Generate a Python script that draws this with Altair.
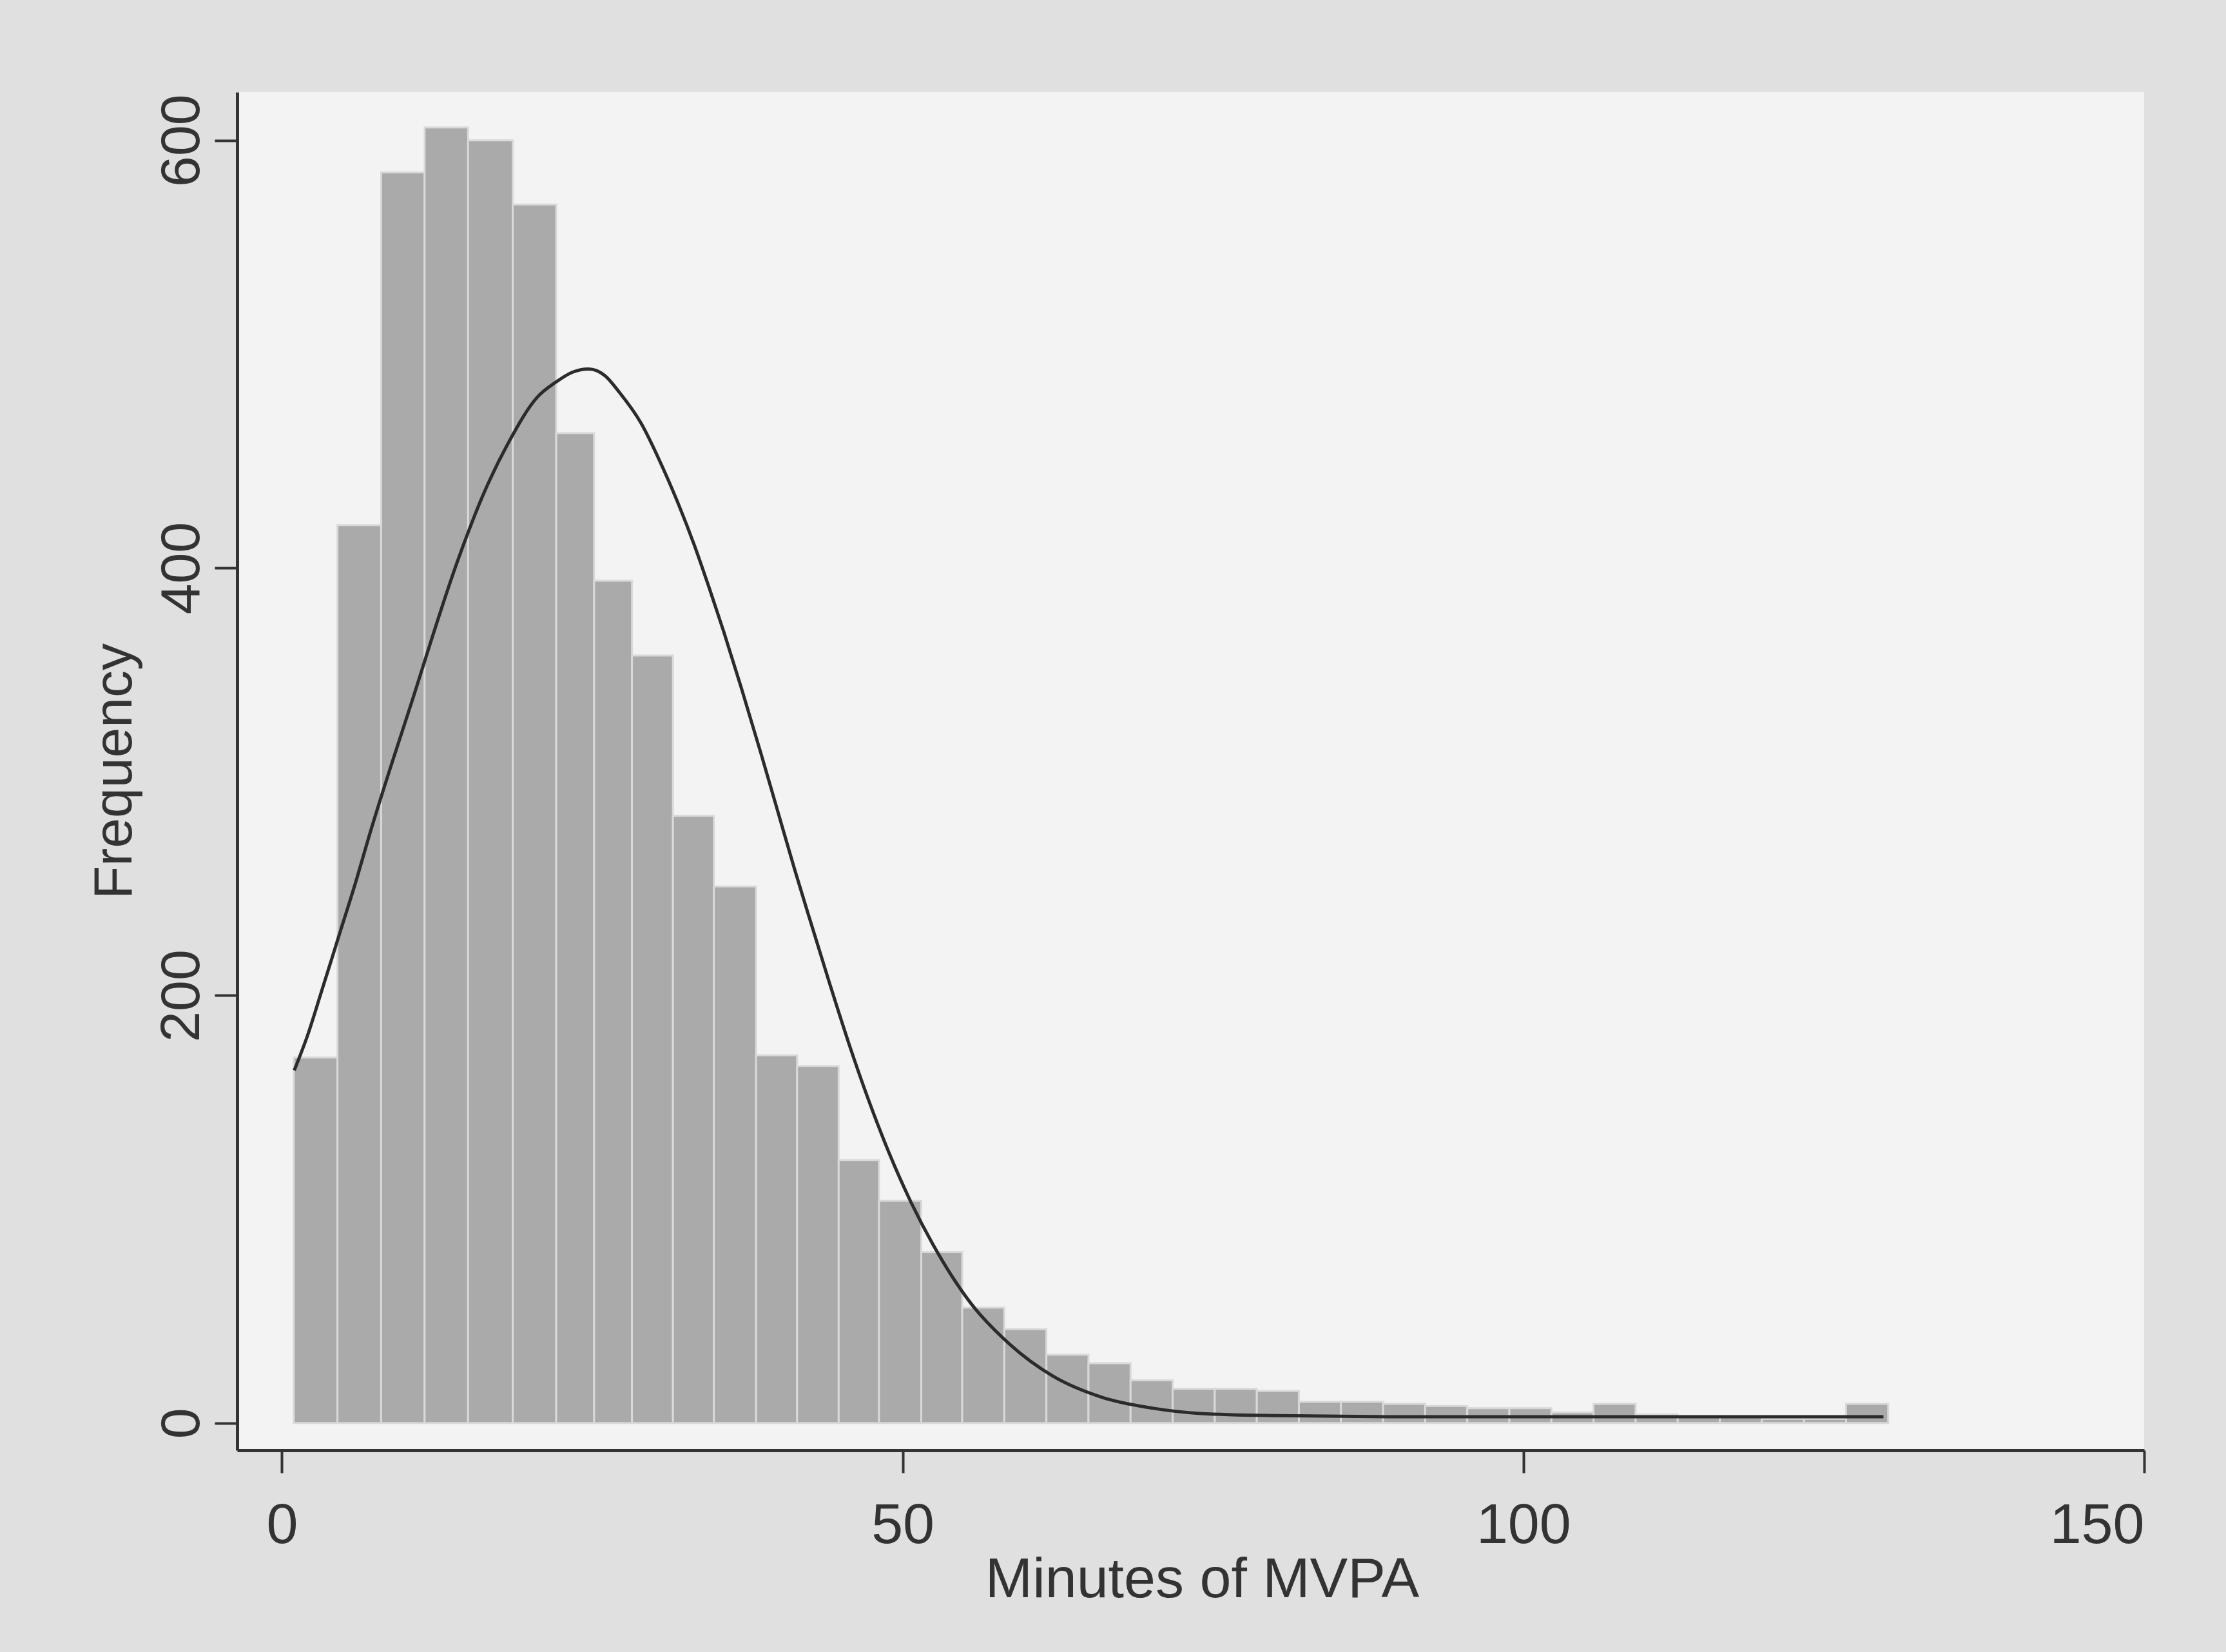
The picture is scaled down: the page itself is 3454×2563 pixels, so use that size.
import altair as alt
import pandas as pd

# Histogram bin edges (minutes), 38 bins
bin_edges = [0.96, 4.48, 8.0, 11.5, 15.0, 18.6, 22.1, 25.15, 28.2, 31.5,
             34.8, 38.2, 41.5, 44.85, 48.1, 51.5, 54.8, 58.19, 61.58, 64.97,
             68.36, 71.75, 75.14, 78.53, 81.92, 85.31, 88.7, 92.09, 95.48, 98.87,
             102.26, 105.65, 109.04, 112.43, 115.82, 119.21, 122.6, 125.99, 129.38]
counts = [171, 420, 585, 606, 600, 570, 463, 394, 359, 284,
          251, 172, 167, 123, 104, 80, 54, 44, 32, 28,
          20, 16, 16, 15, 10, 10, 9, 8, 7, 7,
          5, 9, 4, 3, 3, 2, 2, 9]

# Overlaid normal density curve
curve_x = [1.0, 2.05, 3.2, 4.6, 6.0, 7.0, 10.5, 14.2, 16.2, 18.2, 20.6,
           22.1, 23.4, 24.7, 26.0, 27.2, 28.9, 30.9, 32.0, 33.2, 34.4,
           35.6, 37.0, 38.6, 39.9, 41.3, 42.4, 44.1, 45.7, 47.2, 48.9,
           50.7, 52.4, 55.5, 58.6, 62.1, 66.1, 70.1, 74.0, 80.0, 90.0,
           100.0, 110.0, 120.0, 129.0]
curve_y = [165, 181, 202, 228, 254, 274, 338, 404, 434, 458, 480,
           487, 491.5, 493, 490, 482, 468, 444, 429, 411, 391,
           370, 344, 313, 287, 259, 238, 206, 177, 152, 126.5,
           103, 84, 56, 37, 22, 12, 7, 4.5, 3.5, 3,
           3, 3, 3, 3]

x_ticks = [0, 50, 100, 150]
y_ticks = [0, 200, 400, 600]

bars = pd.DataFrame({
    "lo": bin_edges[:-1],
    "hi": bin_edges[1:],
    "count": counts,
})
curve = pd.DataFrame({"x": curve_x, "y": curve_y})

FONT = "Liberation Sans"
TXT = "#333333"

xscale = alt.Scale(domain=[-3.6, 150], nice=False, zero=False)
yscale = alt.Scale(domain=[-12.7, 622.5], nice=False, zero=False)

xaxis = alt.Axis(
    values=x_ticks, title="Minutes of MVPA", grid=False,
    domainColor=TXT, domainWidth=5, tickColor=TXT, tickWidth=4, tickSize=35,
    labelFont=FONT, labelFontSize=88, labelColor=TXT, labelPadding=38,
    titleFont=FONT, titleFontSize=88, titleColor=TXT, titleFontWeight="normal",
    titleX=1497, titleY=227, titleBaseline="alphabetic", titleAlign="center",
)
yaxis = alt.Axis(
    values=y_ticks, title="Frequency", grid=False,
    domainColor=TXT, domainWidth=5, tickColor=TXT, tickWidth=4, tickSize=35,
    labelFont=FONT, labelFontSize=86, labelColor=TXT, labelPadding=25,
    labelAngle=270, labelAlign="center", labelBaseline="alphabetic",
    titleFont=FONT, titleFontSize=84, titleColor=TXT, titleFontWeight="normal",
    titleAngle=270, titleAlign="center", titleBaseline="middle",
    titleX=-190, titleY=1053,
)

bar_layer = alt.Chart(bars).mark_rect(
    color="#aaaaaa", stroke="#d9d9d9", strokeWidth=3
).encode(
    x=alt.X("lo:Q", scale=xscale, axis=xaxis),
    x2="hi:Q",
    y=alt.Y("count:Q", scale=yscale, axis=yaxis),
    y2=alt.datum(0),
)

line_layer = alt.Chart(curve).mark_line(
    color="#2b2b2b", strokeWidth=5, interpolate="monotone"
).encode(
    x=alt.X("x:Q", scale=xscale),
    y=alt.Y("y:Q", scale=yscale),
)

chart = alt.layer(bar_layer, line_layer).properties(
    width=2959,
    height=2107,
    autosize="none",
    padding={"left": 368, "top": 143, "right": 127, "bottom": 313},
    background="#e0e0e0",
).configure_view(
    fill="#f3f3f3", stroke=None
)

chart.save("out.html", embed_options={"renderer": "svg", "actions": False})
